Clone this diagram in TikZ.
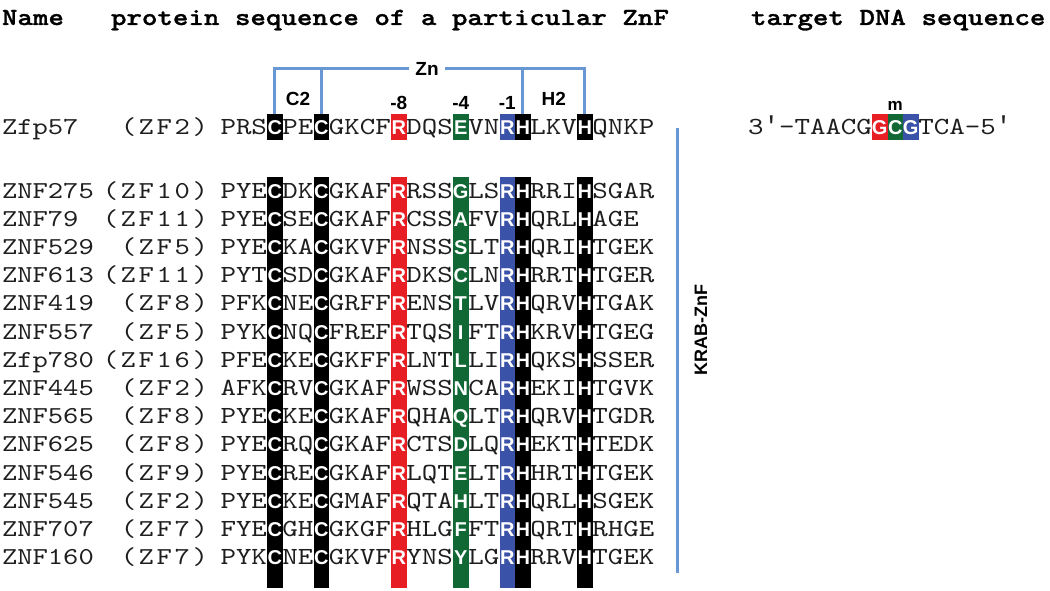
\documentclass[tikz,border=0pt]{standalone}
\usepackage{fontspec}
\setmainfont{Liberation Serif}
\newfontfamily\cour[FakeStretch=1.2]{lmmono10-regular.otf}
\newfontfamily\courb[FakeStretch=1.2,FakeBold=1.2]{lmmonolt10-bold.otf}
\newfontfamily\courzf[FakeStretch=1.2,LetterSpace=11]{lmmono10-regular.otf}
\newfontfamily\primef{Liberation Mono}
\newfontfamily\sansf{Liberation Sans}
\definecolor{zred}{RGB}{232,30,37}
\definecolor{zgreen}{RGB}{18,104,52}
\definecolor{zblue}{RGB}{58,82,168}
\definecolor{zline}{RGB}{104,152,212}
\definecolor{ztext}{RGB}{30,30,30}
\tikzset{
 bs/.style={inner sep=0pt, outer sep=0pt},
 hdr/.style={bs, anchor=base west, font=\courb\fontsize{24.6}{30}\selectfont},
 nm/.style={bs, anchor=base west, text=ztext, font=\cour\fontsize{24.3}{30}\selectfont},
 zf/.style={bs, anchor=base east, text=ztext, font=\courzf\fontsize{24.3}{30}\selectfont},
 sq/.style={bs, anchor=base west, text=ztext, font=\cour\fontsize{24.6}{30}\selectfont},
 wl/.style={bs, anchor=base, text=white, font=\sansf\bfseries\fontsize{20}{24}\selectfont},
 cbox/.style={bs, anchor=base, minimum width=15.5pt, text height=21pt, text depth=5pt, text=white, font=\sansf\bfseries\fontsize{20}{24}\selectfont},
 lab/.style={bs, font=\sansf\bfseries\fontsize{19}{22}\selectfont},
 bracket/.style={draw=zline, line width=3pt},
}
\newcommand\seqrow[5]{%
  \node[nm] (n#1) at (2,#2) {#3};
  \node[zf] (z#1) at (208,#2) {#4};
  \node[sq] (s#1) at (220.5,#2) {#5};
}
\newcommand\prm{{\primef\fontsize{25.83}{30}\selectfont ′}}
\begin{document}
\begin{tikzpicture}[x=1pt,y=-1pt]
\useasboundingbox (0,0) rectangle (1050,591);
% headers
\node[hdr] (hName) at (2,25) {Name};
\node[hdr] (hProt) at (111,25) {protein sequence of a particular ZnF};
\node[hdr] (hDNA) at (751,25) {target DNA sequence};
% rows
\seqrow{0}{135}{Zfp57}{(ZF2)}{PRSCPECGKCFRDQSEVNRHLKVHQNKP}
\seqrow{1}{198}{ZNF275}{(ZF10)}{PYECDKCGKAFRRSSGLSRHRRIHSGAR}
\seqrow{2}{226.2}{ZNF79}{(ZF11)}{PYECSECGKAFRCSSAFVRHQRLHAGE}
\seqrow{3}{254.4}{ZNF529}{(ZF5)}{PYECKACGKVFRNSSSLTRHQRIHTGEK}
\seqrow{4}{282.6}{ZNF613}{(ZF11)}{PYTCSDCGKAFRDKSCLNRHRRTHTGER}
\seqrow{5}{310.8}{ZNF419}{(ZF8)}{PFKCNECGRFFRENSTLVRHQRVHTGAK}
\seqrow{6}{339}{ZNF557}{(ZF5)}{PYKCNQCFREFRTQSIFTRHKRVHTGEG}
\seqrow{7}{367.2}{Zfp780}{(ZF16)}{PFECKECGKFFRLNTLLIRHQKSHSSER}
\seqrow{8}{395.4}{ZNF445}{(ZF2)}{AFKCRVCGKAFRWSSNCARHEKIHTGVK}
\seqrow{9}{423.6}{ZNF565}{(ZF8)}{PYECKECGKAFRQHAQLTRHQRVHTGDR}
\seqrow{10}{451.8}{ZNF625}{(ZF8)}{PYECRQCGKAFRCTSDLQRHEKTHTEDK}
\seqrow{11}{480}{ZNF546}{(ZF9)}{PYECRECGKAFRLQTELTRHHRTHTGEK}
\seqrow{12}{508.2}{ZNF545}{(ZF2)}{PYECKECGMAFRQTAHLTRHQRLHSGEK}
\seqrow{13}{536.4}{ZNF707}{(ZF7)}{FYECGHCGKGFRHLGFFTRHQRTHRHGE}
\seqrow{14}{564.6}{ZNF160}{(ZF7)}{PYKCNECGKVFRYNSYLGRHRRVHTGEK}
% Zfp57 highlighted boxes
\node[cbox, fill=black] (b3) at ({220.5+15.5*3.5},135) {C};
\node[cbox, fill=black] (b6) at ({220.5+15.5*6.5},135) {C};
\node[cbox, fill=zred] (b11) at ({220.5+15.5*11.5},135) {R};
\node[cbox, fill=zgreen] (b15) at ({220.5+15.5*15.5},135) {E};
\node[cbox, fill=zblue] (b18) at ({220.5+15.5*18.5},135) {R};
\node[cbox, fill=black] (b19) at ({220.5+15.5*19.5},135) {H};
\node[cbox, fill=black] (b23) at ({220.5+15.5*23.5},135) {H};
% KRAB columns
\foreach \c/\col in {3/black,6/black,11/zred,15/zgreen,18/zblue,19/black,23/black}
  \fill[\col] ({220.5+15.5*\c},177) rectangle ++(15.5,411);
\foreach \i/\y/\g in {1/198/G,2/226.2/A,3/254.4/S,4/282.6/C,5/310.8/T,6/339/I,7/367.2/L,8/395.4/N,9/423.6/Q,10/451.8/D,11/480/E,12/508.2/H,13/536.4/F,14/564.6/Y}{
  \foreach \c/\l in {3/C,6/C,11/R,18/R,19/H,23/H}
    \node[wl] (w\i-\c) at ({220.5+15.5*(\c+0.5)},\y) {\l};
  \node[wl] (w\i-15) at ({220.5+15.5*15.5},\y) {\g};
}
% Zn bracket and labels
\node[lab, inner xsep=6pt] (zn) at (427,69) {Zn};
\draw[bracket] (b3.north) |- (zn.west);
\draw[bracket] (zn.east) -| (b23.north);
\draw[bracket] (b6.north) -- (b6.north |- zn.west);
\draw[bracket] (b19.north) -- (b19.north |- zn.east);
\node[lab] (lC2) at (298,99) {C2};
\node[lab] (lH2) at (553.75,99) {H2};
\node[lab] (l8) at (b11.center |- 0,103) {-8};
\node[lab] (l4) at (b15.center |- 0,103) {-4};
\node[lab] (l1) at (b18.center |- 0,103) {-1};
% KRAB-ZnF bracket
\coordinate (kt) at (677,128);
\coordinate (kb) at (677,573);
\draw[bracket] (kt) -- (kb);
\node[lab, font=\sansf\bfseries\fontsize{18}{22}\selectfont, rotate=90] (krab) at (701,330) {KRAB-ZnF};
% DNA
\node[sq] (dna) at (748,135) {3\prm-TAACGGCGTCA-5\prm};
\node[cbox, fill=zred] (d1) at ({748+15.5*8.5},135) {G};
\node[cbox, fill=zgreen] (d2) at ({748+15.5*9.5},135) {C};
\node[cbox, fill=zblue] (d3) at ({748+15.5*10.5},135) {G};
\node[lab, font=\sansf\bfseries\fontsize{17}{20}\selectfont] (m) at (d2.center |- 0,106) {m};
\end{tikzpicture}
\end{document}
